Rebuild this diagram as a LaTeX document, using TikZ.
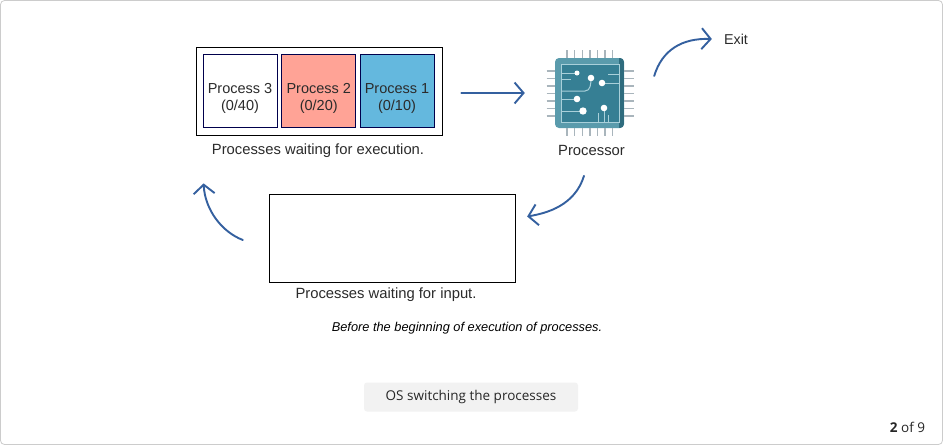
\documentclass[tikz,border=0pt]{standalone}
\usepackage{fontspec}
\setmainfont{Liberation Sans}
\newfontfamily\uifont{Open Sans}
\usepackage{xcolor}
\usetikzlibrary{arrows.meta, positioning, calc}

\definecolor{flowblue}{HTML}{34609F}
\definecolor{inktext}{HTML}{2B2B2B}
\definecolor{chipbody}{HTML}{367F94}
\definecolor{chipedge}{HTML}{5A9BAC}
\definecolor{chipdark}{HTML}{2F6C7E}
\definecolor{chippin}{HTML}{A9B5BC}
\definecolor{chipline}{HTML}{A9D0DA}
\definecolor{procred}{HTML}{FFA396}
\definecolor{procblue}{HTML}{64B8DE}

\newcommand{\procstrut}{\rule{0pt}{26pt}}

\tikzset{
    flow/.style={draw=flowblue, line width=1.9pt, line cap=round,
        -{Straight Barb[length=9pt,width=21pt,line width=1.9pt]}},
    procbox/.style={draw=black!70!blue, line width=0.8pt, minimum width=74pt, minimum height=73pt,
        inner sep=0pt, align=center, text=inktext, font=\fontsize{14.5}{17}\selectfont},
    holdbox/.style={draw=black, line width=0.8pt, inner sep=0pt},
    caption/.style={text=inktext, inner sep=0pt, font=\fontsize{14.8}{16}\selectfont},
    pin/.style={draw=chippin, line width=1.4pt},
    trace/.style={draw=chipline, line width=1pt},
    pad/.style={fill=white, draw=none}
}

\begin{document}
\begin{tikzpicture}[x=1pt, y=-1pt]
    \useasboundingbox (0,0) rectangle (943,445);
    % Card
    \node[draw=black!20, fill=white, rounded corners=4pt, line width=0.8pt, minimum width=942pt, minimum height=444pt, inner sep=0pt] (card) at (471.5,222.5) {};

    % Ready queue
    \node[holdbox, minimum width=246pt, minimum height=88.5pt] (queue) at (319,91.25) {};
    \node[procbox, fill=white] (procthree) at (240,90.5) {\procstrut Process 3\\(0/40)};
    \node[procbox, fill=procred] (proctwo) at (318.75,90.5) {\procstrut Process 2\\(0/20)};
    \node[procbox, fill=procblue] (procone) at (397,90.5) {\procstrut Process 1\\(0/10)};
    \node[caption] (queuelabel) at (318,150.5) {Processes waiting for execution.};

    % Processor
    \node[fill=chipedge, rounded corners=4pt, minimum width=69pt, minimum height=70pt, inner sep=0pt] (chip) at (589.5,93) {};
    \foreach \px in {567,574.6,582.2,589.8,597.4,605,612.6} {
        \draw[pin] (\px,50) -- (\px,58);
        \draw[pin] (\px,128) -- (\px,136);
    }
    \foreach \py in {71,78.5,86,93.5,101,108.5,116} {
        \draw[pin] (546.5,\py) -- (555,\py);
        \draw[pin] (624,\py) -- (634,\py);
    }
    \begin{scope}
        \clip[rounded corners=4pt] (555,58) rectangle (624,128);
        \fill[chipdark] (619,58) rectangle (624,128);
    \end{scope}
    \fill[chipbody] (561,64) rectangle (619,122);
    \draw[trace] (561,64) rectangle (619,122);
    \draw[trace] (561,73) -- (577,73);
    \draw[trace] (561,79) -- (571,79);
    \draw[trace] (561,91) -- (585,91) to[out=0,in=-90] (591,78);
    \draw[trace] (561,99) -- (577,99);
    \draw[trace] (561,111) -- (583,111);
    \draw[trace] (602,83) -- (619,83);
    \draw[trace] (608,74) -- (619,74);
    \draw[trace] (604,108) -- (604,122);
    \draw[trace] (598,113) -- (598,122);
    \draw[trace] (608,115) -- (608,122);
    \foreach \dx/\dy/\dr in {577/73/2.5, 591/78/3.3, 602/83/3.3, 577/99/3.3, 583/111/3.7, 604/108/3.3} {
        \fill[pad] (\dx,\dy) circle (\dr);
    }
    \node[caption] (chiplabel) at (591.5,150.5) {Processor};
    \node[caption, font=\fontsize{14.3}{16}\selectfont] (exitlabel) at (736,39) {Exit};

    % Waiting for input
    \node[holdbox, minimum width=246pt, minimum height=88.5pt] (inputbox) at (392.75,238.5) {};
    \node[caption] (inputlabel) at (386,294.5) {Processes waiting for input.};
    \node[text=black, inner sep=0pt, font=\fontsize{12.8}{14}\selectfont\itshape] (note) at (467,328) {Before the beginning of execution of processes.};

    % Arrows
    \draw[flow, shorten <=19pt, shorten >=30pt] (queue.east |- chip.west) -- (chip.west);
    \draw[flow] ([shift={(30pt,17pt)}]chip.east) .. controls (662,50) and (682,38) .. ([xshift=-12pt]exitlabel.west);
    \draw[flow] ([shift={(-7.5pt,-20pt)}]chiplabel.south) .. controls (575,205) and (548,213) .. ([shift={(11pt,22pt)}]inputbox.east);
    \draw[flow] ([shift={(-26.5pt,-1.5pt)}]inputbox.west) .. controls (222,232) and (205,210) .. ([shift={(8pt,-47.5pt)}]queue.south west);

    % Footer
    \node[fill=black!5, rounded corners=3pt, minimum width=214pt, minimum height=29pt, inner sep=0pt, text=black!85, font=\uifont\fontsize{13.5}{16}\selectfont] (switchbtn) at (471,397) {OS switching the processes};
    \node[text=black!85, inner sep=0pt, font=\uifont\fontsize{13.5}{16}\selectfont] (pager) at (907.5,427) {\textbf{2} of 9};
\end{tikzpicture}
\end{document}
